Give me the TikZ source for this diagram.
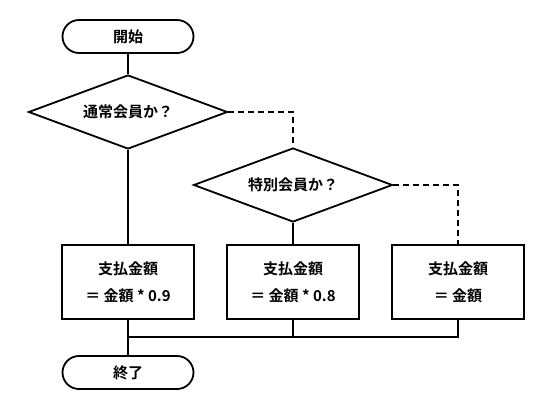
\documentclass[tikz,border=0pt]{standalone}
\usepackage{fontspec}
\setmainfont{Noto Sans CJK JP}[BoldFont={Noto Sans CJK JP Bold}]
\usetikzlibrary{shapes.geometric,shapes.misc}
\begin{document}
\begin{tikzpicture}[x=1pt,y=-1pt,
  every node/.style={font=\bfseries\fontsize{15}{18}\selectfont},
  term/.style={draw,line width=1.8pt,rounded rectangle,minimum width=131pt,minimum height=33pt,inner sep=0pt},
  dec/.style={draw,line width=1.8pt,diamond,aspect=2.7,minimum width=199pt,minimum height=74pt,inner sep=0pt},
  proc/.style={draw,line width=1.8pt,rectangle,minimum width=132pt,minimum height=74pt,inner sep=0pt,align=center},
  conn/.style={line width=1.8pt},
  dconn/.style={line width=1.8pt,dash pattern=on 6pt off 4pt}]
\useasboundingbox (0,0) rectangle (551,406);
\node[term] (start) at (128,36.5) {開始};
\node[dec] (d1) at (128,112) {通常会員か？};
\node[dec] (d2) at (293,185) {特別会員か？};
\node[proc] (p1) at (128,282) {支払金額\\[9pt]＝ 金額 * 0.9};
\node[proc] (p2) at (293,282) {支払金額\\[9pt]＝ 金額 * 0.8};
\node[proc] (p3) at (458,282) {支払金額\\[9pt]＝ 金額};
\node[term] (end) at (128,372.5) {終了};
\coordinate (m) at (128,337);
\draw[conn] (start.south) -- (d1.north);
\draw[conn] (d1.south) -- (p1.north);
\draw[dconn] (d1.east) -| (d2.north);
\draw[conn] (d2.south) -- (p2.north);
\draw[dconn] (d2.east) -| (p3.north);
\draw[conn] (p1.south) -- (m) -- (end.north);
\draw[conn] (p2.south) |- (m);
\draw[conn] (p3.south) |- (m);
\end{tikzpicture}
\end{document}
